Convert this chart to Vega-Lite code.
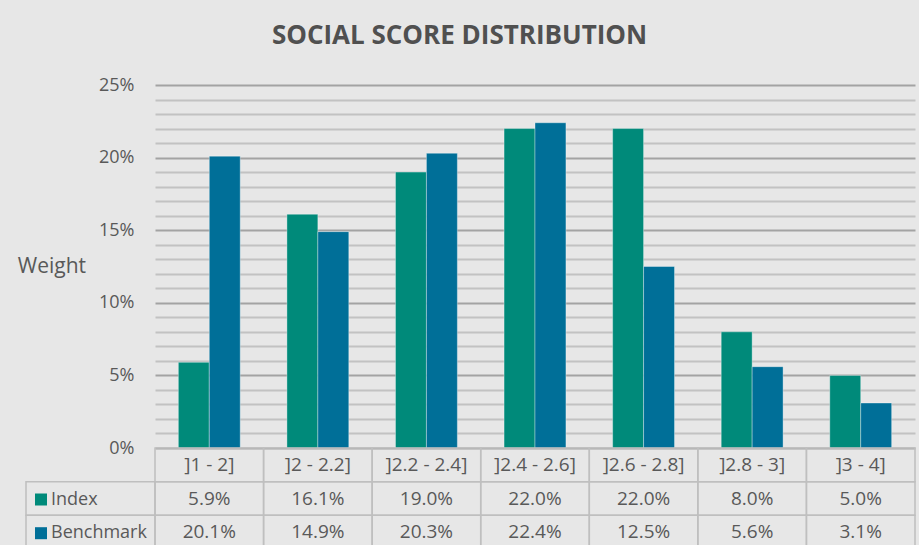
{
  "$schema": "https://vega.github.io/schema/vega-lite/v6.json",
  "background": "#e7e7e7",
  "padding": {"left": 17, "top": 23, "right": 3, "bottom": 0},
  "title": {"text": "SOCIAL SCORE DISTRIBUTION", "font": "Open Sans", "fontSize": 26, "fontWeight": "bold", "color": "#505050", "anchor": "middle", "offset": 27, "dx": -7},
  "config": {"view": {"stroke": null}, "font": "Open Sans"},
  "datasets": {
    "scores": [
      {"category": "]1 - 2]", "series": "Index", "weight": 0.059},
      {"category": "]1 - 2]", "series": "Benchmark", "weight": 0.201},
      {"category": "]2 - 2.2]", "series": "Index", "weight": 0.161},
      {"category": "]2 - 2.2]", "series": "Benchmark", "weight": 0.149},
      {"category": "]2.2 - 2.4]", "series": "Index", "weight": 0.19},
      {"category": "]2.2 - 2.4]", "series": "Benchmark", "weight": 0.203},
      {"category": "]2.4 - 2.6]", "series": "Index", "weight": 0.22},
      {"category": "]2.4 - 2.6]", "series": "Benchmark", "weight": 0.224},
      {"category": "]2.6 - 2.8]", "series": "Index", "weight": 0.22},
      {"category": "]2.6 - 2.8]", "series": "Benchmark", "weight": 0.125},
      {"category": "]2.8 - 3]", "series": "Index", "weight": 0.08},
      {"category": "]2.8 - 3]", "series": "Benchmark", "weight": 0.056},
      {"category": "]3 - 4]", "series": "Index", "weight": 0.05},
      {"category": "]3 - 4]", "series": "Benchmark", "weight": 0.031}
    ]
  },
  "columns": 2,
  "spacing": 0,
  "bounds": "flush",
  "concat": [
    {
      "width": 129,
      "height": 363,
      "data": {"values": [{"blank": 1}]},
      "mark": {"type": "point", "opacity": 0}
    },
    {
      "width": 760,
      "height": 363,
      "data": {"name": "scores"},
      "mark": {"type": "bar", "stroke": "#ffffff", "strokeWidth": 0.7, "strokeOpacity": 0.5},
      "encoding": {
        "x": {"field": "category", "type": "nominal", "sort": null,
              "scale": {"domain": ["]1 - 2]", "]2 - 2.2]", "]2.2 - 2.4]", "]2.4 - 2.6]", "]2.6 - 2.8]", "]2.8 - 3]", "]3 - 4]"], "paddingInner": 0.43, "paddingOuter": 0.215},
              "axis": null},
        "xOffset": {"field": "series", "type": "nominal", "scale": {"domain": ["Index", "Benchmark"], "paddingInner": 0, "paddingOuter": 0}},
        "y": {"field": "weight", "type": "quantitative",
              "scale": {"domain": [0, 0.25], "nice": false},
              "axis": {
                "title": "Weight", "titleAngle": 0, "titleAlign": "right", "titleBaseline": "middle",
                "titleFontSize": 21, "titleFontWeight": "normal", "titleColor": "#595959", "titlePadding": 13, "titleFont": "Open Sans",
                "values": [0, 0.01, 0.02, 0.03, 0.04, 0.05, 0.06, 0.07, 0.08, 0.09, 0.1, 0.11, 0.12, 0.13, 0.14, 0.15, 0.16, 0.17, 0.18, 0.19, 0.2, 0.21, 0.22, 0.23, 0.24, 0.25],
                "format": ".0%",
                "labelExpr": "round(datum.value*100) % 5 == 0 ? datum.label : ''",
                "labelFontSize": 18, "labelColor": "#595959", "labelPadding": 21, "labelFont": "Open Sans", "labelOverlap": false,
                "ticks": false, "domain": false, "grid": true,
                "gridColor": {"condition": {"test": "round(datum.value*100) % 5 == 0", "value": "#a3a3a3"}, "value": "#c2c2c2"},
                "gridWidth": 1.8
              }},
        "color": {"field": "series", "type": "nominal",
                  "scale": {"domain": ["Index", "Benchmark"], "range": ["#008A7A", "#006F98"]},
                  "legend": {"title": null, "orient": "none", "legendX": 6, "legendY": 405.5, "direction": "vertical",
                             "symbolType": "square", "symbolSize": 144, "symbolStrokeWidth": 0,
                             "labelFontSize": 18, "labelFont": "Open Sans", "labelColor": "#595959", "labelOffset": 1,
                             "rowPadding": 15.7, "padding": 0}}
      }
    },
    {
      "width": 129,
      "height": 101,
      "data": {"name": "scores"},
      "transform": [{"aggregate": [{"op": "count", "as": "n"}], "groupby": ["series"]}],
      "mark": {"type": "rect", "fill": "transparent", "stroke": "#bfbfbf", "strokeWidth": 1.5},
      "encoding": {
        "y": {"field": "series", "type": "nominal", "scale": {"domain": ["header", "Index", "Benchmark"], "paddingInner": 0, "paddingOuter": 0}, "axis": null}
      }
    },
    {
      "width": 760,
      "height": 101,
      "data": {"name": "scores"},
      "layer": [
        {
          "transform": [{"aggregate": [{"op": "count", "as": "n"}], "groupby": ["category"]}],
          "mark": {"type": "rect", "fill": "transparent", "stroke": "#bfbfbf", "strokeWidth": 1.5},
          "encoding": {
            "x": {"field": "category", "type": "nominal", "scale": {"domain": ["]1 - 2]", "]2 - 2.2]", "]2.2 - 2.4]", "]2.4 - 2.6]", "]2.6 - 2.8]", "]2.8 - 3]", "]3 - 4]"], "paddingInner": 0, "paddingOuter": 0}, "axis": null},
            "y": {"datum": "header", "type": "nominal", "scale": {"domain": ["header", "Index", "Benchmark"], "paddingInner": 0, "paddingOuter": 0}, "axis": null}
          }
        },
        {
          "transform": [{"aggregate": [{"op": "count", "as": "n"}], "groupby": ["category"]}],
          "mark": {"type": "text", "fontSize": 19, "color": "#595959", "font": "Open Sans", "align": "center", "baseline": "middle"},
          "encoding": {
            "x": {"field": "category", "type": "nominal", "axis": null},
            "y": {"datum": "header", "type": "nominal", "axis": null},
            "text": {"field": "category"}
          }
        },
        {
          "mark": {"type": "rect", "fill": "transparent", "stroke": "#bfbfbf", "strokeWidth": 1.5},
          "encoding": {
            "x": {"field": "category", "type": "nominal", "axis": null},
            "y": {"field": "series", "type": "nominal", "axis": null}
          }
        },
        {
          "mark": {"type": "text", "fontSize": 19, "color": "#595959", "font": "Open Sans", "align": "center", "baseline": "middle"},
          "encoding": {
            "x": {"field": "category", "type": "nominal", "axis": null},
            "y": {"field": "series", "type": "nominal", "axis": null},
            "text": {"field": "weight", "type": "quantitative", "format": ".1%"}
          }
        }
      ]
    }
  ]
}
